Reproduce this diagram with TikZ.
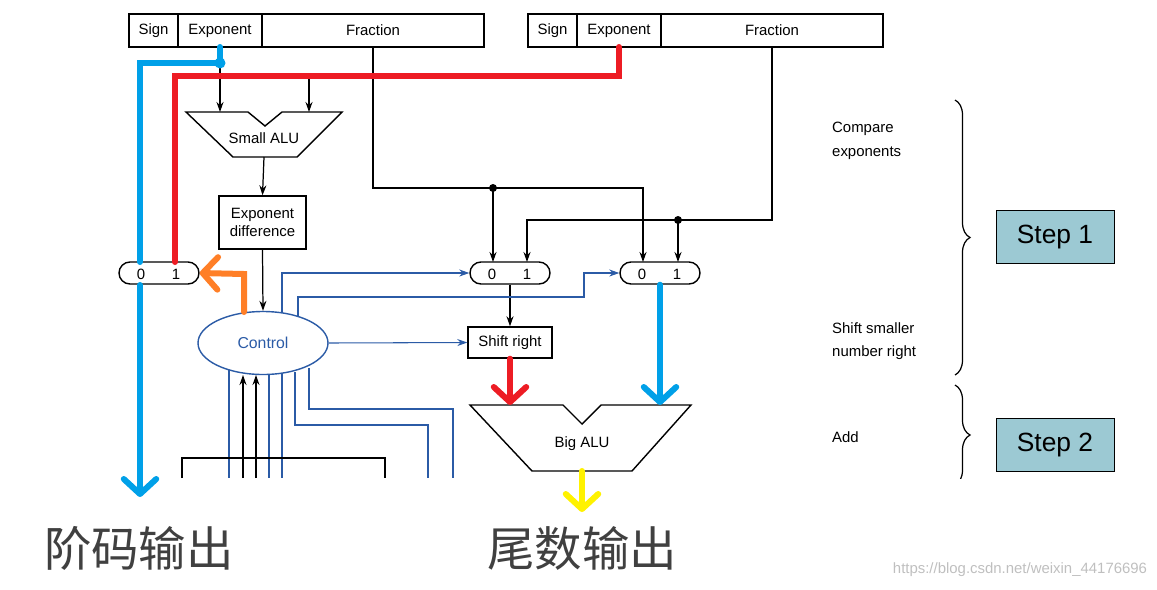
\documentclass[tikz,border=0pt]{standalone}
\usepackage{fontspec}
\setmainfont{Liberation Sans}
\newfontfamily\cjk{Noto Sans CJK SC}
\usetikzlibrary{arrows.meta,shapes.geometric,shapes.misc,decorations.pathreplacing,positioning}
\definecolor{navy}{HTML}{2B5BA6}
\definecolor{skyblue}{HTML}{00A0E8}
\definecolor{hotred}{HTML}{ED1C24}
\definecolor{orng}{HTML}{FF7F27}
\definecolor{yell}{HTML}{FFF200}
\definecolor{tealbox}{HTML}{9CC9D3}
\tikzstyle{field}=[draw, rectangle, minimum height=6.6mm, inner sep=0pt, line width=0.8pt, font=\fontsize{8.5}{9}\selectfont]
\tikzstyle{mux}=[draw, rounded rectangle, minimum width=16mm, minimum height=4.4mm, inner sep=0pt, line width=0.8pt]
\tikzstyle{box}=[draw, rectangle, align=center, line width=0.8pt, font=\fontsize{8.5}{10}\selectfont]
\tikzstyle{wire}=[draw, line width=0.7pt, -{Stealth[length=2mm,width=1.4mm]}]
\tikzstyle{ctrl}=[draw, navy, line width=0.6pt, -{Stealth[length=2mm,width=1.4mm]}]
\tikzstyle{fat}=[draw, line width=1.2mm, line cap=round, -{Straight Barb[length=3mm,width=6.5mm,round]}]
\tikzstyle{note}=[anchor=north west, align=left, font=\fontsize{8.5}{13.6}\selectfont]
\tikzstyle{stepbox}=[draw, fill=tealbox, minimum width=23.6mm, minimum height=10.6mm, font=\fontsize{15}{16}\selectfont]
\tikzstyle{cjklabel}=[text=black!75, font=\cjk\fontsize{27}{30}\selectfont]
\begin{document}
\begin{tikzpicture}[x=0.2mm,y=-0.2mm]
    \useasboundingbox (0,0) rectangle (1157,589);
    % the two registers
    \foreach \r/\x in {1/129, 2/528} {
        \node[field, minimum width=9.8mm] (s\r) at (\x+24.5,30.5) {Sign};
        \node[field, minimum width=16.8mm] (e\r) at (\x+91,30.5) {Exponent};
        \node[field, minimum width=44.4mm] (f\r) at (\x+244,30.5) {Fraction};
    }
    % ALUs
    \draw[line width=0.8pt] (186,112) -- (248,112) -- (265,126) -- (282,112) -- (342,112) -- (297,157) -- (233,157) -- cycle;
    \node[font=\fontsize{8.5}{9}\selectfont] (salu) at (264,138) {Small ALU};
    \coordinate (saout) at (264,157);
    \draw[line width=0.8pt] (470,405) -- (563,405) -- (582,424) -- (601,405) -- (691,405) -- (632,471) -- (532,471) -- cycle;
    \node[font=\fontsize{8.5}{9}\selectfont] (balu) at (582,444) {Big ALU};
    % boxes, muxes and control
    \node[box, minimum width=17.4mm, minimum height=10.6mm] (diff) at (262.5,222.5) {Exponent\\difference};
    \node[box, minimum width=16.8mm, minimum height=6.2mm] (shr) at (510,342.5) {Shift right};
    \foreach \m/\x in {1/159, 2/510, 3/660} {
        \node[mux] (m\m) at (\x,273) {};
        \node[font=\fontsize{8.5}{9}\selectfont] at (\x-18,274) {0};
        \node[font=\fontsize{8.5}{9}\selectfont] at (\x+17,274) {1};
    }
    \node[draw=navy, text=navy, ellipse, line width=0.8pt, minimum width=26mm, minimum height=12.6mm, font=\fontsize{9}{9}\selectfont] (ctl) at (263,343) {Control};
    % black data paths
    \draw[wire] (e1.south) -- (220,112);
    \draw[wire] (309,78) -- (309,112);
    \draw[wire] (saout) -- (diff.north);
    \draw[wire] (diff.south) -- (ctl.north);
    \draw[wire] (f1.south) -- (373,188) -- (643,188) -- (643,262);
    \draw[wire] (493,188) -- (493,262);
    \draw[wire] (f2.south) -- (772,220) -- (527,220) -- (527,262);
    \draw[wire] (678,220) -- (678,262);
    \fill (493,188) circle (0.8mm) (678,220) circle (0.8mm);
    \draw[wire] (m2.south) -- (shr.north);
    % control lines
    \draw[ctrl] (282,313) |- (m2.west);
    \draw[ctrl] (298,317) -- (298,297) -- (584,297) |- (m3.west);
    \draw[ctrl] (ctl.east) -- (shr.west);
    \foreach \x/\y in {229/370, 269/375, 282/373} \draw[navy, line width=0.6pt] (\x,\y) -- (\x,478);
    \draw[navy, line width=0.6pt] (295,372) -- (295,425) -- (428,425) -- (428,478);
    \draw[navy, line width=0.6pt] (309,368) -- (309,409) -- (453,409) -- (453,478);
    \foreach \x in {243, 256} \draw[wire] (\x,478) -- (\x,375);
    \draw[line width=0.7pt] (182,478) -- (182,458) -- (385,458) -- (385,478);
    % coloured marks
    \draw[skyblue, line width=1.2mm, line cap=round] (220,47) -- (220,63) -- (140,63) -- (140,262);
    \fill[skyblue] (220,63) circle (1.1mm);
    \draw[hotred, line width=1.2mm, line cap=round] (619,47) -- (619,76) -- (175,76) -- (175,262);
    \draw[fat, orng] (244,312) -- (244,274) -- (m1.east);
    \draw[fat, skyblue] (140,285) -- (140,497);
    \draw[fat, skyblue] (m3.south) -- (660,405);
    \draw[fat, hotred] (shr.south) -- (510,405);
    \draw[fat, yell] (582,471) -- (582,512);
    % steps on the right
    \node[note] (cmp) at (826,116) {Compare\\exponents};
    \node[note] (shs) at (826,316) {Shift smaller\\number right};
    \node[note] (add) at (826,425) {Add};
    \draw[decorate, decoration={brace, amplitude=3mm}, line width=0.7pt] (955,100) -- (955,375);
    \begin{scope}
        \clip (900,380) rectangle (1000,478);
        \draw[decorate, decoration={brace, amplitude=3mm}, line width=0.7pt] (955,385) -- (955,485);
    \end{scope}
    \node[stepbox] (st1) at (1055,237) {Step 1};
    \node[stepbox] (st2) at (1055,445) {Step 2};
    % outputs
    \node[cjklabel] (eout) at (139,548) {阶码输出};
    \node[cjklabel] (fout) at (582,548) {尾数输出};
    \node[text=black!25, font=\fontsize{8.5}{9}\selectfont] (wm) at (1020,570) {https://blog.csdn.net/weixin\_44176696};
\end{tikzpicture}
\end{document}
